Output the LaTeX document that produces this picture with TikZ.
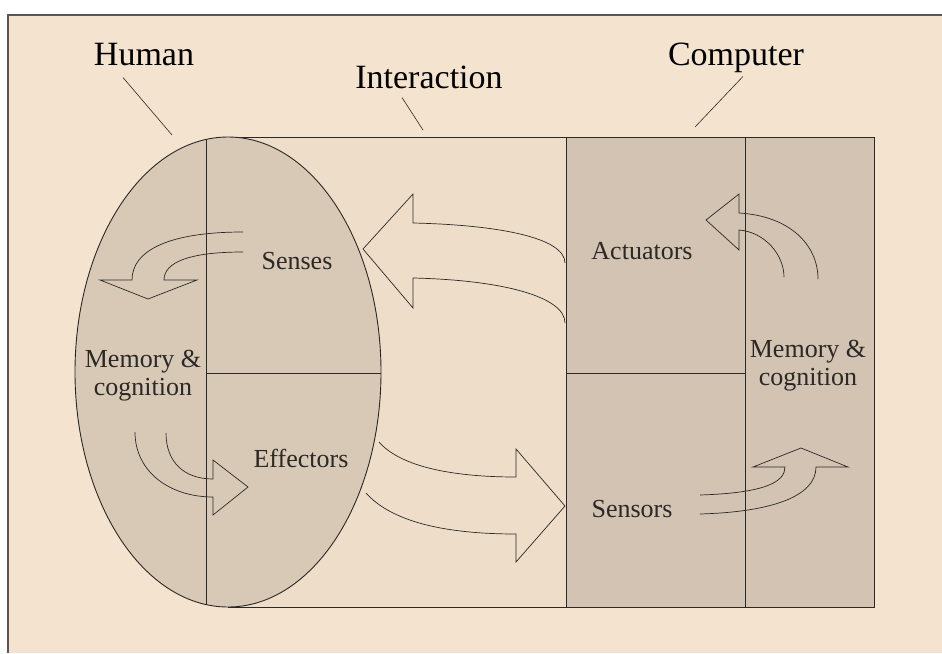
\documentclass[tikz,border=0pt]{standalone}
\usepackage{fontspec}
\setmainfont{Liberation Serif}
\usetikzlibrary{positioning,backgrounds,calc}

\begin{document}
\begin{tikzpicture}[x=1pt,y=-1pt]
      \definecolor{page}{HTML}{F3E3CF}
      \definecolor{framegray}{HTML}{5A5550}
      \definecolor{inter}{HTML}{EEDDC9}
      \definecolor{human}{HTML}{D8C9B7}
      \definecolor{machine}{HTML}{D3C3B2}
      \definecolor{ink}{HTML}{2B2826}

      \newcommand{\toplabel}[1]{\fontsize{34}{38}\selectfont #1}
      \newcommand{\blocklabel}[1]{\fontsize{26}{28}\selectfont \begin{tabular}{@{}c@{}}#1\end{tabular}}

      \tikzstyle{title}  = [inner sep=3pt, anchor=base]
      \tikzstyle{part}   = [inner sep=0pt, text=ink]
      \tikzstyle{region} = [draw=ink, line width=0.9pt]
      \tikzstyle{split}  = [draw=ink, line width=0.7pt]
      \tikzstyle{leader} = [draw=ink, line width=0.6pt]
      \tikzstyle{flow}   = [draw=ink, line width=0.7pt, line join=miter]

      % page
      \useasboundingbox (0,0) rectangle (942,653);
      \fill [white] (0,0) rectangle (942,653);
      \fill [page]  (8,14) rectangle (942,653);
      \draw [framegray, line width=1.2pt] (8,653) -- (8,15) -- (942,15);

      % interaction band, human, computer
      \filldraw [region, fill=inter] (228,137) rectangle (874,607);
      \filldraw [region, fill=human] (228,372) ellipse [x radius=153, y radius=235];
      \begin{scope}
        \clip (228,372) ellipse [x radius=153, y radius=235];
        \draw [split] (206,120) -- (206,620);
        \draw [split] (206,373) -- (400,373);
      \end{scope}
      \filldraw [region, fill=machine] (566,137) rectangle (874,607);
      \draw [region] (745,137) -- (745,607);
      \draw [region] (566,373) -- (745,373);

      % labels
      \node [title] (humanlbl)    at (144,65) {\toplabel{Human}};
      \node [title] (interlbl)    at (429,88) {\toplabel{Interaction}};
      \node [title] (computerlbl) at (736,65) {\toplabel{Computer}};

      \coordinate (humantip)    at (172,135);
      \coordinate (intertip)    at (423,130);
      \coordinate (computertip) at (695,127);

      \draw [leader] ($(humanlbl.south)+(-21,9)$)    -- (humantip);
      \draw [leader] ($(interlbl.south)+(-27,6)$)    -- (intertip);
      \draw [leader] ($(computerlbl.south)+(7,1)$)   -- (computertip);

      \node [part, anchor=base] (senses)    at (297,270) {\blocklabel{Senses}};
      \node [part, anchor=base] (effectors) at (301,468) {\blocklabel{Effectors}};
      \node [part]              (hmemory)   at (143,376) {\blocklabel{Memory \&\\cognition}};
      \node [part, anchor=base] (actuators) at (642,260) {\blocklabel{Actuators}};
      \node [part, anchor=base] (sensors)   at (632,518) {\blocklabel{Sensors}};
      \node [part]              (cmemory)   at (808,366) {\blocklabel{Memory \&\\cognition}};

      % senses -> memory
      \draw [flow] (243,232) .. controls (170,232) and (132,250) .. (132,280)
                   -- (100,280) -- (148,299) -- (197,280) -- (164,280)
                   .. controls (164,262) and (190,252) .. (243,252);
      % memory -> effectors
      \draw [flow] (135,432) .. controls (135,472) and (170,497) .. (213,497)
                   -- (213,515) -- (248,487) -- (213,460) -- (213,479)
                   .. controls (184,479) and (166,462) .. (166,433);
      % computer -> senses
      \draw [flow] (565,263) .. controls (565,238) and (500,225) .. (413,223)
                   -- (413,194) -- (363,249) -- (413,308) -- (413,278)
                   .. controls (500,280) and (565,296) .. (565,323);
      % effectors -> sensors
      \draw [flow] (379,442) .. controls (400,466) and (450,477) .. (516,477)
                   -- (516,449) -- (565,506) -- (516,562) -- (516,534)
                   .. controls (440,534) and (390,520) .. (366,493);
      % memory -> actuators
      \draw [flow] (818,279) .. controls (818,245) and (790,216) .. (739,213)
                   -- (739,194) -- (706,220) -- (739,250) -- (739,230)
                   .. controls (765,232) and (784,255) .. (784,277);
      % sensors -> memory
      \draw [flow] (700,495) .. controls (765,493) and (785,482) .. (785,467)
                   -- (753,467) -- (801,448) -- (848,467) -- (816,467)
                   .. controls (816,497) and (770,512) .. (700,514);
\end{tikzpicture}
\end{document}
